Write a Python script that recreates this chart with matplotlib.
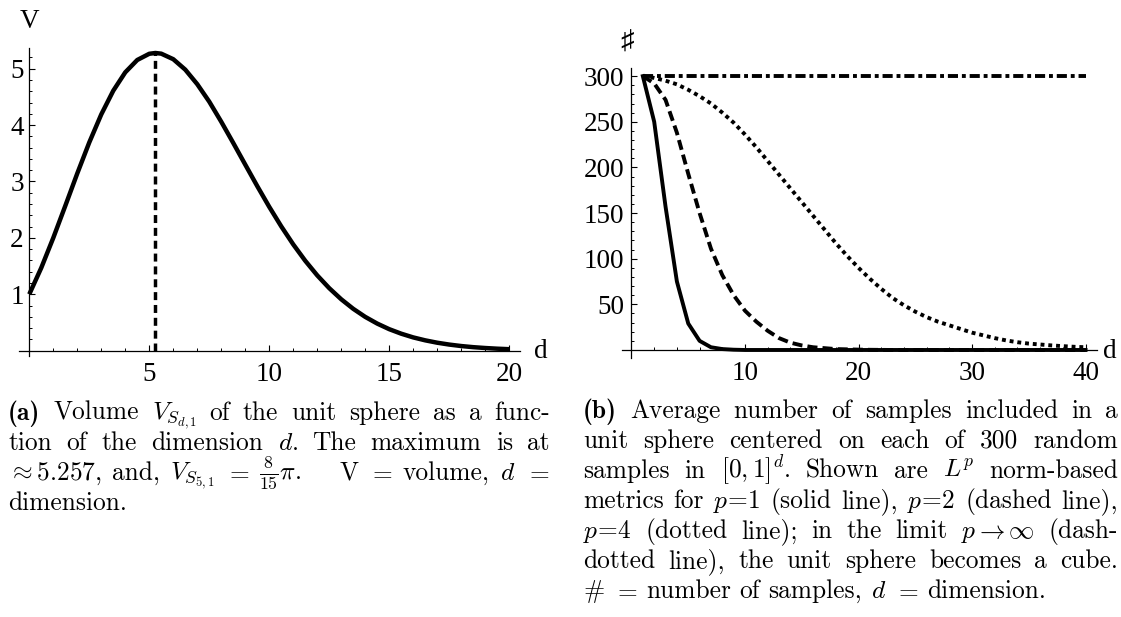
import matplotlib
matplotlib.use("Agg")
import matplotlib.pyplot as plt
from matplotlib.ticker import FixedLocator

plt.rcParams['font.family'] = ['Liberation Serif', 'DejaVu Sans']
plt.rcParams['mathtext.fontset'] = 'cm'
plt.rcParams['axes.unicode_minus'] = False

W, H = 1121, 617

# (a) volume of the unit sphere
dim_a = [0, 0.5, 1, 1.5, 2, 2.5, 3, 3.5, 4, 4.5, 5, 5.257, 5.5, 6, 6.5, 7, 7.5,
         8, 8.5, 9, 9.5, 10, 10.5, 11, 11.5, 12, 12.5, 13, 13.5, 14, 14.5,
         15, 15.5, 16, 16.5, 17, 17.5, 18, 18.5, 19, 19.5, 20]
vol_a = [1.0, 1.469, 2.0, 2.567, 3.142, 3.692, 4.189, 4.609, 4.935, 5.154,
         5.264, 5.278, 5.266, 5.168, 4.983, 4.725, 4.415, 4.059, 3.683, 3.299,
         2.918, 2.550, 2.204, 1.884, 1.594, 1.335, 1.108, 0.911, 0.742, 0.599,
         0.480, 0.381, 0.301, 0.235, 0.183, 0.141, 0.108, 0.082, 0.062, 0.047,
         0.035, 0.026]
peak_d = 5.257
peak_v = 5.278

# (b) average number of samples inside the unit sphere
dim_b = list(range(1, 41))
count_p1 = [300, 250, 157, 75, 29, 10, 3, 1, 0.3, 0,
            0, 0, 0, 0, 0, 0, 0, 0, 0, 0,
            0, 0, 0, 0, 0, 0, 0, 0, 0, 0,
            0, 0, 0, 0, 0, 0, 0, 0, 0, 0]
count_p2 = [300, 292, 274, 238, 193, 150, 111, 82, 60, 43,
            31, 21, 13, 8, 5, 3, 2, 1, 0.7, 0.4,
            0.2, 0.1, 0, 0, 0, 0, 0, 0, 0, 0,
            0, 0, 0, 0, 0, 0, 0, 0, 0, 0]
count_p4 = [300, 298, 295, 291, 285, 278, 270, 260, 249, 236,
            222, 207, 192, 177, 162, 147, 132, 117, 103, 90,
            78, 67, 57, 49, 42, 36, 31, 27, 23, 19,
            16, 13, 10.5, 8.5, 7, 6, 5, 4.2, 3.5, 3]
count_pinf = [300, 300, 300, 300, 300, 300, 300, 300, 300, 300,
              300, 300, 300, 300, 300, 300, 300, 300, 300, 300,
              300, 300, 300, 300, 300, 300, 300, 300, 300, 300,
              300, 300, 300, 300, 300, 300, 300, 300, 300, 300]

xticks_a = [5, 10, 15, 20]
yticks_a = [1, 2, 3, 4, 5]
xticks_b = [10, 20, 30, 40]
yticks_b = [50, 100, 150, 200, 250, 300]

caption_a = [
    ["**(a)", "Volume", r"$V_{S_{d,1}}$", "of", "the", "unit", "sphere", "as", "a", "func-"],
    ["tion", "of", "the", "dimension", r"$d$.", "The", "maximum", "is", "at"],
    [r"$\approx 5.257$,", "and,", r"$V_{S_{5,1}}$", r"$=$", r"$\frac{8}{15}\pi$.", "QUAD",
     "V", r"$=$", "volume,", r"$d$", r"$=$"],
    ["dimension."],
]
caption_b = [
    ["**(b)", "Average", "number", "of", "samples", "included", "in", "a"],
    ["unit", "sphere", "centered", "on", "each", "of", "300", "random"],
    ["samples", "in", r"$[0,1]^d$.", "Shown", "are", r"$L^p$", "norm-based"],
    ["metrics", "for", r"$p\!=\!1$", "(solid", "line),", r"$p\!=\!2$", "(dashed", "line),"],
    [r"$p\!=\!4$", "(dotted", "line);", "in", "the", "limit", r"$p\rightarrow\infty$", "(dash-"],
    ["dotted", "line),", "the", "unit", "sphere", "becomes", "a", "cube."],
    [r"$\#$", r"$=$", "number", "of", "samples,", r"$d$", r"$=$", "dimension."],
]

CAP_SIZE = 18.3
TICK_SIZE = 19.5

fig = plt.figure(figsize=(W / 100, H / 100), dpi=100)


def frac(x, y):
    return x / W, 1 - y / H


def style_axes(ax, xmaj, xmin, ymaj, ymin, xpad, ypad):
    for s in ['top', 'right']:
        ax.spines[s].set_visible(False)
    for s in ['left', 'bottom']:
        ax.spines[s].set_position(('data', 0))
        ax.spines[s].set_linewidth(0.9)
    ax.xaxis.set_major_locator(FixedLocator(xmaj))
    ax.xaxis.set_minor_locator(FixedLocator(xmin))
    ax.yaxis.set_major_locator(FixedLocator(ymaj))
    ax.yaxis.set_minor_locator(FixedLocator(ymin))
    ax.tick_params(which='major', direction='in', length=4, width=0.8, labelsize=TICK_SIZE)
    ax.tick_params(which='minor', direction='in', length=2.3, width=0.7)
    ax.tick_params(axis='x', which='major', pad=xpad)
    ax.tick_params(axis='y', which='major', pad=ypad)


# ---- panel (a)
ax1 = fig.add_axes([19.2 / W, 1 - 356.3 / H, 500.8 / W, 308.5 / H])
ax1.plot(dim_a, vol_a, color='black', lw=3.2, solid_capstyle='butt', clip_on=False)
ax1.plot([peak_d, peak_d], [0, peak_v], color='black', lw=2.5, ls=(0, (2.3, 1.4)))
ax1.set_xlim(-0.42, 20.45)
ax1.set_ylim(-0.1, 5.37)
style_axes(ax1, xticks_a, [v for v in range(1, 20) if v % 5],
           yticks_a, [v / 5 for v in range(1, 27) if v % 5], 8, 4)

# ---- panel (b)
ax2 = fig.add_axes([621.5 / W, 1 - 358.2 / H, 475.4 / W, 290.3 / H])
ax2.plot(dim_b, count_p1, color='black', lw=2.8, clip_on=False)
ax2.plot(dim_b, count_p2, color='black', lw=2.8, ls=(0, (2.6, 1.3)), clip_on=False)
ax2.plot(dim_b, count_p4, color='black', lw=2.8, ls=(0, (1, 1)), clip_on=False)
ax2.plot(dim_b, count_pinf, color='black', lw=2.8, ls=(0, (2.6, 1, 1, 1)), clip_on=False)
ax2.set_xlim(-0.88, 41)
ax2.set_ylim(-9, 309)
style_axes(ax2, xticks_b, [v for v in range(2, 40, 2) if v % 10],
           yticks_b, [v for v in range(10, 310, 10) if v % 50], 8, 5)

# axis labels
fig.text(*frac(29, 21), "V", fontsize=TICK_SIZE, ha='center', va='center')
fig.text(*frac(541, 351), "d", fontsize=TICK_SIZE, ha='center', va='center')
fig.text(*frac(627, 43), "\u266f", fontsize=TICK_SIZE, ha='center', va='center')
fig.text(*frac(1110, 351), "d", fontsize=TICK_SIZE, ha='center', va='center')

# ---- captions, justified word by word
renderer = fig.canvas.get_renderer()
em = CAP_SIZE * 100 / 72


def put_line(words, x0, x1, y, justify=True):
    items = []
    for w in words:
        if w == "QUAD":
            items.append((None, em * 0.7))
            continue
        bold = w.startswith("**")
        t = fig.text(0, 0, w.lstrip("*"), fontsize=CAP_SIZE,
                     family='cmb10' if bold else 'cmr10', ha='left', va='baseline')
        items.append((t, t.get_window_extent(renderer).width))
    total = sum(wd for _, wd in items)
    gap = (x1 - x0 - total) / (len(items) - 1) if justify else em * 0.33
    x = x0
    for t, wd in items:
        if t is not None:
            t.set_position(frac(x, y))
        x += wd + gap


for i, line in enumerate(caption_a):
    put_line(line, 8, 550, 420 + 30 * i, justify=i < len(caption_a) - 1)
for i, line in enumerate(caption_b):
    put_line(line, 583, 1118, 418 + 30 * i, justify=i < len(caption_b) - 1)

fig.savefig("out.png", dpi=100)
